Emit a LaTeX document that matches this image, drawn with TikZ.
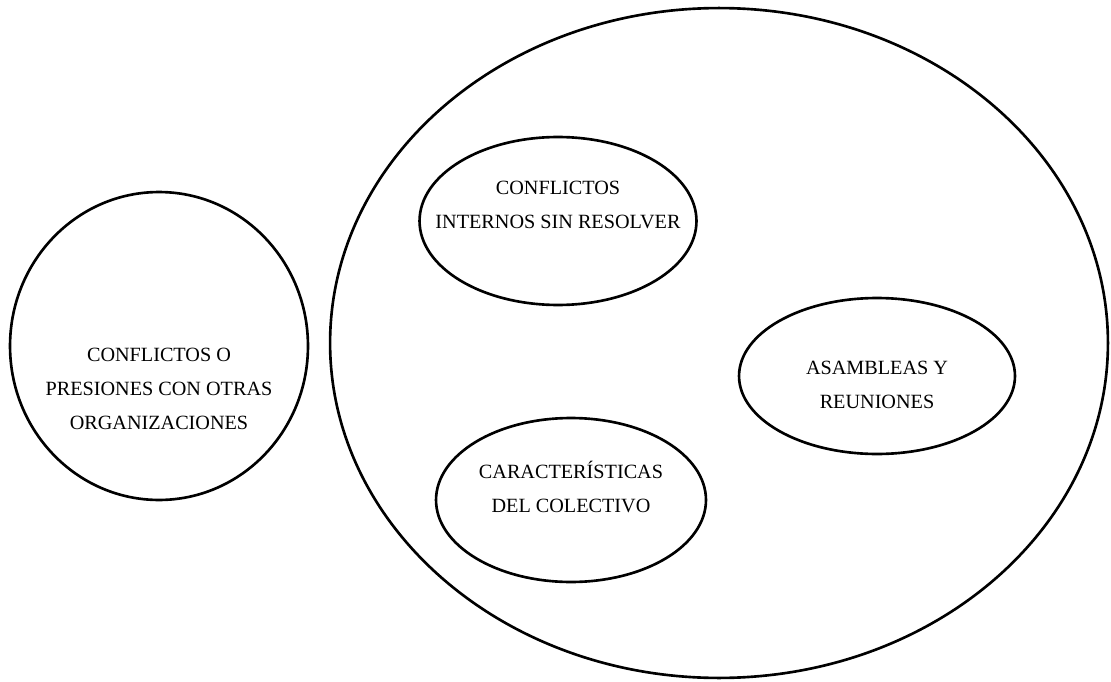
\documentclass[tikz,border=0pt]{standalone}
\usepackage{fontspec}
\setmainfont{Liberation Serif}
\usetikzlibrary{shapes.geometric}
\tikzset{
  blob/.style={draw,ellipse,line width=1.5pt,inner sep=0pt},
  label/.style={align=center,font=\fontsize{11.5}{19.5}\selectfont}
}
\begin{document}
\begin{tikzpicture}[x=0.02cm,y=-0.02cm]
      \useasboundingbox (0,0) rectangle (1111,682);
      \node[blob,minimum width=15.56cm,minimum height=13.4cm] (grupo) at (719,343) {};
      \node[blob,minimum width=5.96cm,minimum height=6.16cm] (externos) at (159,346) {};
      \node[blob,minimum width=5.54cm,minimum height=3.36cm] (internos) at (558,221) {};
      \node[blob,minimum width=5.52cm,minimum height=3.12cm] (asambleas) at (877,376) {};
      \node[blob,minimum width=5.4cm,minimum height=3.28cm] (colectivo) at (571,500) {};
      \node[label] (t-externos) at (159,389) {CONFLICTOS O\\PRESIONES CON OTRAS\\ORGANIZACIONES};
      \node[label] (t-internos) at (558,205) {CONFLICTOS\\INTERNOS SIN RESOLVER};
      \node[label] (t-asambleas) at (877,385) {ASAMBLEAS Y\\REUNIONES};
      \node[label] (t-colectivo) at (571,487) {CARACTERÍSTICAS\\DEL COLECTIVO};
\end{tikzpicture}
\end{document}
